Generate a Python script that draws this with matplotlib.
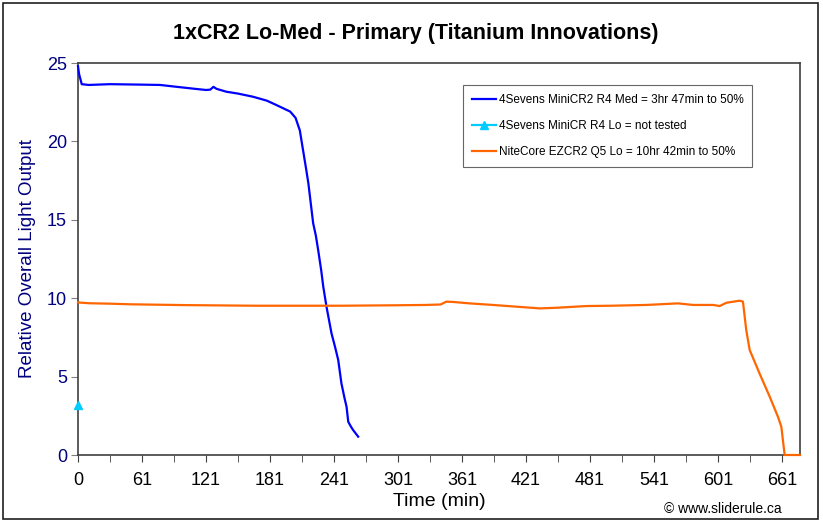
import matplotlib
matplotlib.use("Agg")
import matplotlib.pyplot as plt
from matplotlib.patches import Rectangle

plt.rcParams['font.family'] = ['Liberation Sans', 'DejaVu Sans']

# 4Sevens MiniCR2 R4 Med
med_time = [0, 1, 3.5, 10, 30, 60, 77, 90, 110, 120, 124, 127, 130, 139, 150, 164,
            177, 186, 199, 204, 208, 211, 214, 216, 218, 220.5, 223, 225.2, 228, 230,
            233, 237.7, 241, 244, 247, 250, 251.8, 253.4, 256, 258, 262.7]
med_output = [24.8, 24.3, 23.65, 23.6, 23.65, 23.62, 23.6, 23.5, 23.35, 23.28, 23.3, 23.48,
              23.35, 23.17, 23.05, 22.85, 22.6, 22.32, 21.9, 21.5, 20.7, 19.45, 18.2, 17.33,
              16.2, 14.78, 14.0, 13.07, 11.8, 10.73, 9.46, 7.76, 6.9, 6.06, 4.57, 3.6, 3.08,
              2.12, 1.8, 1.59, 1.17]

# 4Sevens MiniCR R4 Lo (not tested, single point)
lo_time = [0]
lo_output = [3.2]

# NiteCore EZCR2 Q5 Lo
nite_time = [0, 10, 30, 50, 100, 166, 247, 300, 326.7, 340, 345.4, 352, 367, 389, 411,
             433, 448.6, 476.7, 500, 533, 562.6, 576.7, 595.5, 601.7, 608, 620.4, 623.5,
             626.6, 629.8, 639, 648.6, 656.3, 659.5, 662.6, 677]
nite_output = [9.73, 9.68, 9.65, 9.61, 9.56, 9.52, 9.52, 9.55, 9.57, 9.6, 9.78, 9.76, 9.67,
               9.57, 9.46, 9.35, 9.39, 9.5, 9.52, 9.57, 9.67, 9.57, 9.57, 9.5, 9.71, 9.84,
               9.78, 7.97, 6.7, 5.21, 3.72, 2.44, 1.8, 0.0, 0.0]

x_tick_pos = list(range(0, 661, 60))
x_tick_labels = ['0', '61', '121', '181', '241', '301', '361', '421', '481', '541', '601', '661']
y_ticks = [0, 5, 10, 15, 20, 25]

fig = plt.figure(figsize=(8.23, 5.23), dpi=100)
ax = fig.add_axes([78 / 823, 1 - 455 / 523, 722 / 823, 392 / 523])

ax.plot(med_time, med_output, color='#0000FF', lw=1.6, clip_on=False, zorder=3,
        label='4Sevens MiniCR2 R4 Med = 3hr 47min to 50%')
ax.plot(lo_time, lo_output, color='#00CCFF', lw=1.6, marker='^', markersize=6,
        clip_on=False, zorder=4, label='4Sevens MiniCR R4 Lo = not tested')
ax.plot(nite_time, nite_output, color='#FF6600', lw=1.6, clip_on=False, zorder=3,
        label='NiteCore EZCR2 Q5 Lo = 10hr 42min to 50%')

ax.set_xlim(0, 677)
ax.set_ylim(0, 25)
ax.set_xticks(x_tick_pos)
ax.set_xticklabels(x_tick_labels)
ax.set_xticks(range(30, 677, 60), minor=True)
ax.set_yticks(y_ticks)

ax.tick_params(axis='x', direction='out', length=5, color='#404040', labelsize=13, pad=7)
ax.tick_params(axis='x', which='minor', direction='out', length=5, color='#404040')
ax.tick_params(axis='y', direction='out', length=5, color='#808080', labelsize=13,
               labelcolor='#000080', pad=3)
for s in ax.spines.values():
    s.set_color('#404040')
    s.set_linewidth(1.2)
    s.set_zorder(2)

ax.set_xlabel('Time (min)', fontsize=14, labelpad=3)
ax.set_ylabel('Relative Overall Light Output', fontsize=13.5, color='#000080', labelpad=8)
fig.text(0.505, 1 - 33 / 523, '1xCR2 Lo-Med - Primary (Titanium Innovations)',
         ha='center', va='center', fontsize=15.5, fontweight='bold')

leg = ax.legend(loc='upper left', bbox_to_anchor=(0.533, 0.944), borderaxespad=0,
                fontsize=8.5, frameon=True, fancybox=False, edgecolor='#404040',
                labelspacing=1.2, handlelength=2.1, handletextpad=0.2, borderpad=0.75)
leg.get_frame().set_linewidth(0.8)

fig.text(782 / 823, 1 - 509 / 523, '\u00a9 www.sliderule.ca', ha='right', va='center', fontsize=10)

fig.patches.append(Rectangle((3 / 823, 4 / 523), 815 / 823, 516 / 523, transform=fig.transFigure,
                             fill=False, edgecolor='#202020', linewidth=1.2))

fig.savefig('out.png', dpi=100)
